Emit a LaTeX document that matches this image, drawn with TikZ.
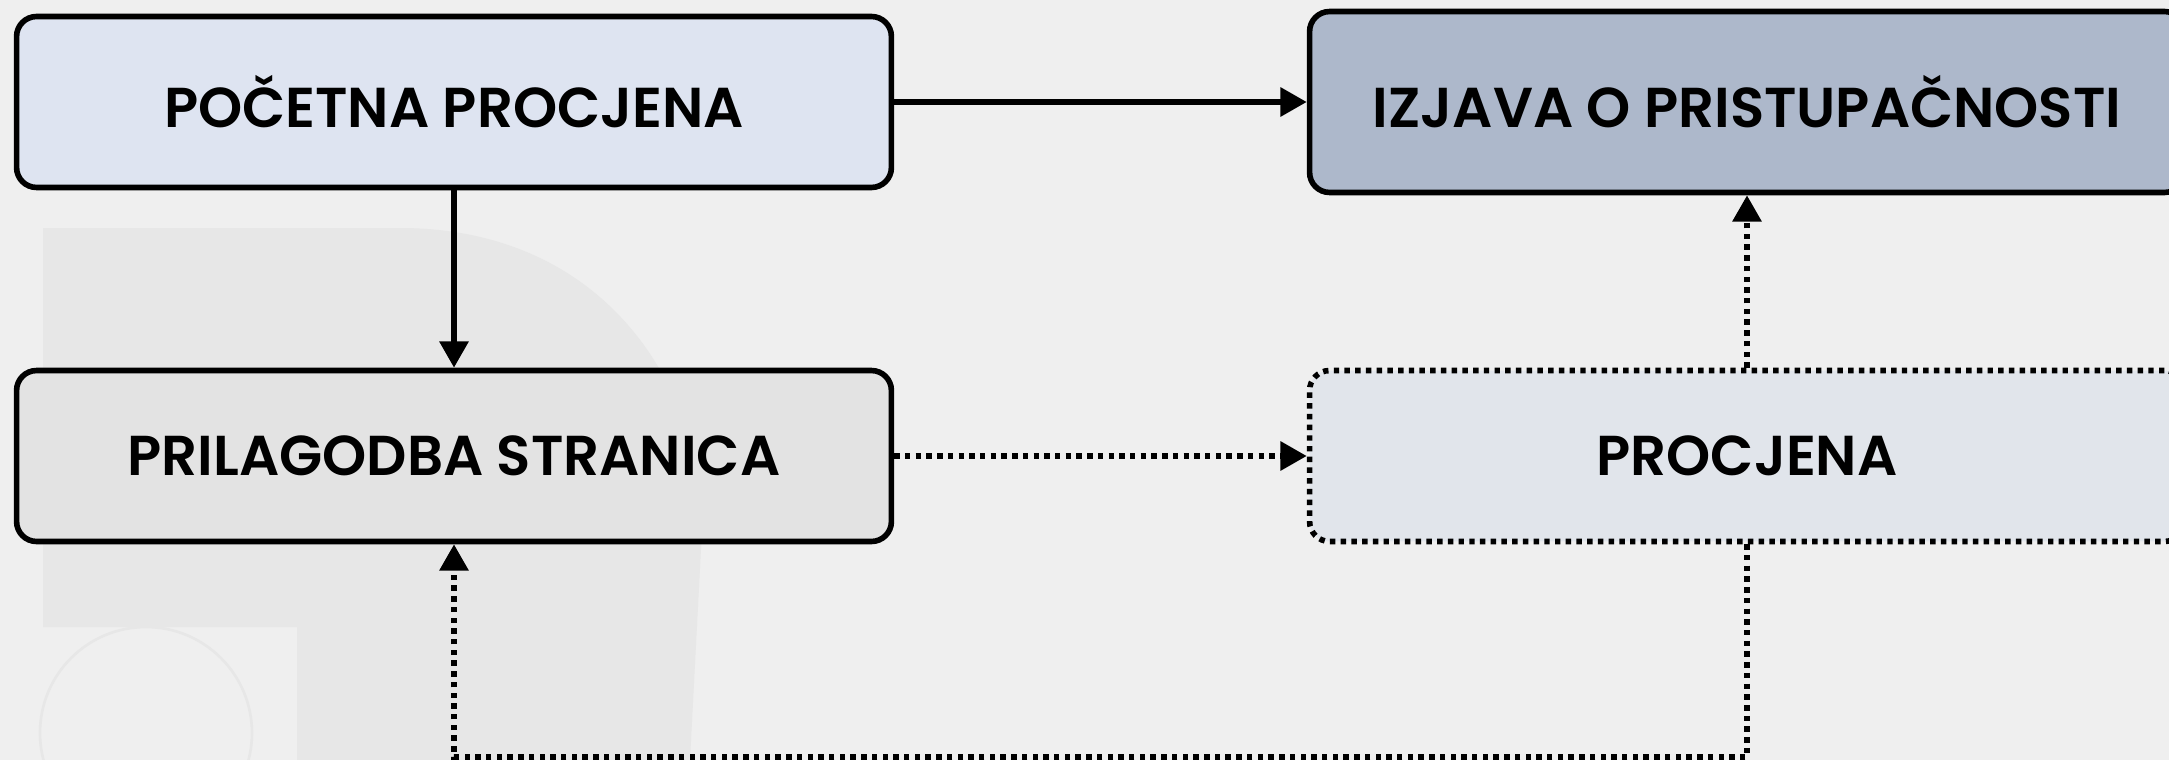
\documentclass[tikz,border=0pt]{standalone}
\usepackage{fontspec}
\setmainfont{Poppins}[BoldFont={Poppins SemiBold}]
\usetikzlibrary{arrows.meta}
\definecolor{paper}{HTML}{EFEFEF}
\definecolor{watermarkgrey}{HTML}{E7E7E7}
\definecolor{startblue}{HTML}{DEE4F1}
\definecolor{statgrey}{HTML}{ADB8CB}
\definecolor{pagegrey}{HTML}{E3E3E3}
\definecolor{evalgrey}{HTML}{E1E5EB}
\begin{document}
\begin{tikzpicture}[x=0.02cm, y=-0.02cm,
    stepbox/.style={rounded corners=0.4cm, line width=3.2pt, minimum width=17.5cm, minimum height=3.42cm,
        font=\fontsize{32}{38}\selectfont\bfseries, text=black},
    solidbox/.style={stepbox, draw=black},
    dotbox/.style={stepbox, draw=black, dash pattern=on 3.1pt off 3pt},
    link/.style={line width=3.3pt, -{Triangle[length=15pt, width=16pt]}},
    dotlink/.style={link, dash pattern=on 3.1pt off 3pt}]
    \useasboundingbox (0,0) rectangle (2169,760);
    \clip (0,0) rectangle (2169,760);
    % paper and faint watermark
    \fill [paper] (0,0) rectangle (2169,760);
    \fill [watermarkgrey] (43,228) -- (400,228) .. controls (600,228) and (702,380) .. (702,530) -- (690,760) -- (297,760) -- (297,627) -- (43,627) -- cycle;
    \draw [watermarkgrey, line width=1.5pt] (146,733) circle (106);
    % steps
    \node [solidbox, fill=startblue] (start) at (454,102) {POČETNA PROCJENA};
    \node [solidbox, fill=statgrey, minimum height=3.62cm] (izjava) at (1747,102) {IZJAVA O PRISTUPAČNOSTI};
    \node [solidbox, fill=pagegrey] (prilagodba) at (454,456) {PRILAGODBA STRANICA};
    \node [dotbox, fill=evalgrey] (procjena) at (1747,456) {PROCJENA};
    \coordinate (loop) at (1747,757);
    % links
    \draw [link] (start.east) -- (izjava.west);
    \draw [link] (start.south) -- (prilagodba.north);
    \draw [dotlink] (prilagodba.east) -- (procjena.west);
    \draw [dotlink] (procjena.north) -- (izjava.south);
    \draw [dotlink] (procjena.south) -- (loop) -| (prilagodba.south);
\end{tikzpicture}
\end{document}
